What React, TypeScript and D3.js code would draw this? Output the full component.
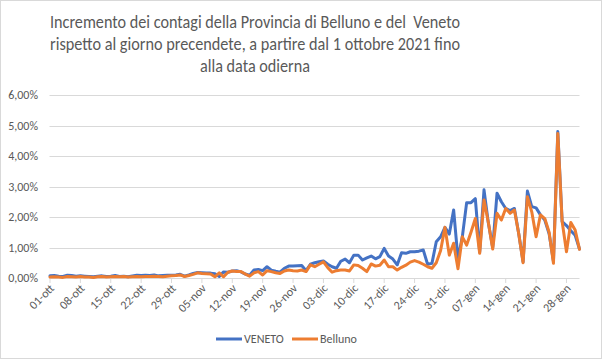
import React from "react";
import * as d3 from "d3";

const titleLines = [
  "Incremento dei contagi della Provincia di Belluno e del  Veneto",
  "rispetto al giorno precendete, a partire dal 1 ottobre 2021 fino",
  "alla data odierna",
];

const seriesNames = ["VENETO", "Belluno"];

// daily increments in %, from 01-ott-2021 to 31-gen-2022
const veneto = [
  0.07, 0.08, 0.06, 0.05, 0.09, 0.08, 0.06, 0.07, 0.06, 0.05,
  0.04, 0.06, 0.07, 0.05, 0.06, 0.08, 0.05, 0.06, 0.04, 0.07,
  0.09, 0.08, 0.09, 0.08, 0.10, 0.07, 0.08, 0.09, 0.09, 0.10,
  0.12, 0.06, 0.10, 0.15, 0.18, 0.17, 0.16, 0.16, 0.14, 0.05,
  0.20, 0.19, 0.23, 0.24, 0.20, 0.13, 0.09, 0.26, 0.28, 0.24,
  0.37, 0.26, 0.22, 0.19, 0.32, 0.39, 0.39, 0.40, 0.41, 0.24,
  0.45, 0.50, 0.53, 0.56, 0.45, 0.37, 0.32, 0.55, 0.62, 0.50,
  0.75, 0.75, 0.59, 0.66, 0.72, 0.63, 0.70, 0.97, 0.72, 0.62,
  0.43, 0.83, 0.81, 0.86, 0.86, 0.88, 0.92, 0.45, 0.48, 1.19,
  1.35, 1.66, 1.44, 2.23, 0.62, 1.35, 2.47, 2.47, 2.60, 0.85,
  2.89, 1.80, 1.00, 2.78, 2.50, 2.28, 2.21, 2.28, 1.45, 0.53,
  2.85, 2.34, 2.30, 2.07, 1.90, 1.45, 0.55, 4.80, 1.85, 1.72,
  1.55, 1.40, 0.95,
];

const belluno = [
  0.03, 0.04, 0.03, 0.02, 0.05, 0.04, 0.03, 0.05, 0.03, 0.03,
  0.02, 0.04, 0.05, 0.03, 0.04, 0.05, 0.04, 0.05, 0.03, 0.04,
  0.05, 0.04, 0.05, 0.05, 0.06, 0.05, 0.04, 0.06, 0.07, 0.08,
  0.10, 0.05, 0.08, 0.12, 0.17, 0.15, 0.14, 0.13, 0.04, 0.17,
  0.04, 0.19, 0.23, 0.21, 0.21, 0.13, 0.06, 0.17, 0.21, 0.10,
  0.24, 0.21, 0.17, 0.15, 0.23, 0.26, 0.24, 0.23, 0.26, 0.21,
  0.43, 0.37, 0.45, 0.53, 0.34, 0.19, 0.24, 0.26, 0.26, 0.23,
  0.43, 0.41, 0.32, 0.21, 0.46, 0.39, 0.42, 0.59, 0.37, 0.37,
  0.26, 0.35, 0.42, 0.52, 0.57, 0.52, 0.45, 0.37, 0.32, 0.50,
  0.90, 1.66, 0.75, 1.14, 0.30, 1.35, 1.08, 1.50, 1.95, 0.81,
  2.56, 1.82, 0.95, 2.12, 1.90, 2.28, 2.12, 2.23, 1.45, 0.50,
  2.66, 2.17, 1.35, 2.07, 1.95, 1.50, 0.48, 4.74, 1.85, 0.86,
  1.82, 1.57, 0.94,
];

const yTickValues = [0, 1, 2, 3, 4, 5, 6];

const xTickLabels = [
  "01-ott", "08-ott", "15-ott", "22-ott", "29-ott", "05-nov", "12-nov",
  "19-nov", "26-nov", "03-dic", "10-dic", "17-dic", "24-dic", "31-dic",
  "07-gen", "14-gen", "21-gen", "28-gen",
];
const xTickStep = 7;

const FONT = "Carlito, Calibri, 'Liberation Sans Narrow', 'Liberation Sans', Arial, sans-serif";
const TEXT = "#595959";
const GRID = "#d9d9d9";
const BLUE = "#4472C4";
const ORANGE = "#ED7D31";

export default function App() {
  const W = 602;
  const H = 360;
  const n = veneto.length;
  const x = d3.scaleLinear().domain([0, n - 1]).range([50, 579.5]);
  const y = d3.scaleLinear().domain([0, 6]).range([278, 95]);
  const line = d3
    .line<number>()
    .x((_, i) => x(i))
    .y((d) => y(d));
  const fmt = (v: number) => v.toFixed(2).replace(".", ",") + "%";
  const titleWidths = [410, 410, 110];

  return (
    <div style={{ position: "absolute", left: 0, top: 0 }}>
      <svg width={W} height={H} style={{ display: "block", fontFamily: FONT }}>
        <rect x={0.5} y={0.5} width={W - 1} height={H - 2} fill="#fff" stroke={GRID} />
        {titleLines.map((t, i) => (
          <text
            key={i}
            x={255}
            y={28 + i * 22}
            textAnchor="middle"
            fontSize={18}
            fill={TEXT}
            style={{ whiteSpace: "pre" }}
            textLength={titleWidths[i]}
            lengthAdjust="spacingAndGlyphs"
          >
            {t}
          </text>
        ))}
        {yTickValues.map((v) => (
          <g key={v}>
            <line x1={49.5} x2={579.5} y1={Math.round(y(v)) + 0.5} y2={Math.round(y(v)) + 0.5} stroke={GRID} />
            <text x={38} y={y(v) + 4} textAnchor="end" fontSize={12} fill={TEXT}>
              {fmt(v)}
            </text>
          </g>
        ))}
        {xTickLabels.map((lab, i) => {
          const xi = x(i * xTickStep);
          return (
            <g key={lab}>
              <line x1={xi} x2={xi} y1={278} y2={283} stroke={GRID} />
              <text
                transform={`translate(${xi + 5},${289}) rotate(-45)`}
                textAnchor="end"
                fontSize={12}
                fill={TEXT}
              >
                {lab}
              </text>
            </g>
          );
        })}
        <path d={line(veneto) || ""} fill="none" stroke={BLUE} strokeWidth={3} strokeLinejoin="round" strokeLinecap="round" />
        <path d={line(belluno) || ""} fill="none" stroke={ORANGE} strokeWidth={3} strokeLinejoin="round" strokeLinecap="round" />
        <g>
          <line x1={216} x2={242} y1={339} y2={339} stroke={BLUE} strokeWidth={3} />
          <text x={244} y={343} fontSize={12} fill={TEXT}>{seriesNames[0]}</text>
          <line x1={292} x2={318} y1={339} y2={339} stroke={ORANGE} strokeWidth={3} />
          <text x={320} y={343} fontSize={12} fill={TEXT}>{seriesNames[1]}</text>
        </g>
      </svg>
    </div>
  );
}
